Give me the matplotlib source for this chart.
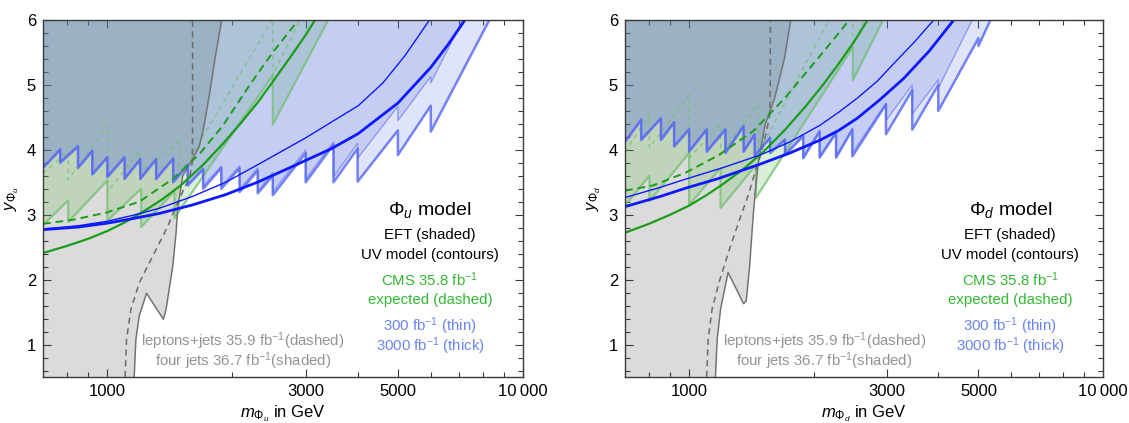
import matplotlib
matplotlib.use("Agg")
import matplotlib.pyplot as plt
from matplotlib.ticker import FixedLocator, NullFormatter, FixedFormatter

plt.rcParams['font.family'] = ['Liberation Sans', 'DejaVu Sans']
plt.rcParams['mathtext.fontset'] = 'custom'
plt.rcParams['mathtext.rm'] = 'Liberation Sans'
plt.rcParams['mathtext.it'] = 'Liberation Sans:italic'
plt.rcParams['mathtext.bf'] = 'Liberation Sans:bold'

# ---------------- axis ranges / ticks ----------------
x_min, x_max = 700, 10000
y_min, y_max = 0.5, 6.0
x_major = [1000, 3000, 5000, 10000]
x_major_labels = ["1000", "3000", "5000", "10\u2009000"]
x_minor = [800, 900, 2000, 4000, 6000, 7000, 8000, 9000]
y_major = [1, 2, 3, 4, 5, 6]

# ================= LEFT PANEL  (Phi_u) =================
# four jets (shaded) boundary
u_gray_m = [1160, 1171, 1193, 1242, 1364, 1384, 1436, 1463, 1476, 1518, 1600, 1663, 1700, 1762, 1820, 1884]
u_gray_y = [0.5, 1.08, 1.44, 1.79, 1.39, 1.54, 2.2, 2.72, 3.08, 3.6, 3.85, 4.05, 4.3, 4.87, 5.45, 6.0]
# leptons+jets (dashed)
u_lj_m = [1103, 1112, 1139, 1193, 1285, 1397, 1463, 1530, 1580, 1600, 1603, 1603]
u_lj_y = [0.5, 1.08, 1.54, 1.95, 2.36, 2.82, 3.13, 3.4, 3.6, 3.8, 4.2, 6.0]
# CMS observed EFT boundary (sawtooth)
u_gobs_edges = [700, 805, 1000, 1206, 1450, 2500, 3500]
u_gobs_lo = [2.84, 2.89, 2.91, 2.81, 2.95, 4.39]
u_gobs_hi = [3.22, 3.53, 3.40, 3.36, 5.15, 6.15]
# CMS expected EFT boundary (dashed sawtooth)
u_gexp_edges = [700, 805, 1000, 1193, 1491, 2500, 3000]
u_gexp_lo = [3.64, 3.54, 3.35, 3.64, 3.59, 5.15]
u_gexp_hi = [3.97, 4.38, 3.98, 4.13, 6.02, 6.18]
# UV contours, CMS
u_guv_m = [700, 800, 900, 1000, 1100, 1200, 1350, 1500, 1700, 1900, 2100, 2300, 2500, 2750, 3000, 3160]
u_guv_y = [2.41, 2.52, 2.63, 2.75, 2.88, 3.02, 3.23, 3.45, 3.77, 4.10, 4.42, 4.73, 5.05, 5.42, 5.77, 6.0]
u_guvexp_m = [700, 823, 991, 1193, 1436, 1663, 1900, 2200, 2500, 2880]
u_guvexp_y = [2.86, 2.92, 3.03, 3.20, 3.55, 3.93, 4.38, 5.00, 5.50, 6.0]
# HL projections EFT boundaries
u_b3000_edges = [700, 770, 850, 920, 1000, 1100, 1200, 1310, 1440, 1560, 1700, 1880, 2080, 2300, 2500,
                 3000, 3500, 4000, 5000, 6000, 8300]
u_b3000_lo = [3.72, 3.80, 3.72, 3.62, 3.58, 3.55, 3.55, 3.55, 3.50, 3.45, 3.40, 3.40, 3.35, 3.33, 3.30,
              3.50, 3.50, 3.51, 3.92, 4.28]
u_b3000_hi = [4.00, 4.05, 3.98, 3.88, 3.88, 3.85, 3.85, 3.86, 3.76, 3.70, 3.72, 3.72, 3.68, 3.60, 3.95,
              4.08, 4.02, 4.30, 4.68, 6.00]
u_b300_edges = [700, 770, 850, 920, 1000, 1100, 1200, 1310, 1440, 1560, 1700, 1880, 2080, 2300, 2500,
                3000, 3500, 4000, 5000, 6000, 7160]
u_b300_lo = [3.74, 3.82, 3.74, 3.64, 3.60, 3.57, 3.57, 3.57, 3.52, 3.47, 3.44, 3.44, 3.39, 3.36, 3.35,
             3.55, 3.58, 3.87, 4.45, 5.03]
u_b300_hi = [4.02, 4.07, 4.00, 3.90, 3.90, 3.87, 3.87, 3.88, 3.78, 3.72, 3.75, 3.75, 3.72, 3.65, 4.00,
             4.12, 4.10, 4.67, 5.13, 6.00]
# HL UV contours
u_buv300_m = [700, 850, 1000, 1150, 1334, 1600, 1926, 2315, 2992, 4015, 4600, 5200, 5957]
u_buv300_y = [2.78, 2.83, 2.90, 2.99, 3.10, 3.28, 3.50, 3.78, 4.18, 4.68, 5.03, 5.45, 6.0]
u_buv3000_m = [700, 850, 1000, 1150, 1334, 1600, 1926, 2315, 2781, 3465, 4015, 5000, 6000, 6600, 7250]
u_buv3000_y = [2.77, 2.81, 2.87, 2.94, 3.02, 3.15, 3.31, 3.51, 3.74, 4.02, 4.25, 4.72, 5.27, 5.62, 6.0]

# ================= RIGHT PANEL  (Phi_d) =================
d_gray_m = [1158, 1169, 1191, 1242, 1354, 1374, 1400, 1425, 1442, 1471, 1525, 1610, 1700, 1760]
d_gray_y = [0.5, 1.08, 1.54, 2.11, 1.63, 1.67, 2.2, 2.9, 3.3, 3.82, 4.38, 4.8, 5.41, 6.0]
d_lj_m = [1102, 1112, 1136, 1180, 1249, 1323, 1391, 1450, 1489, 1540, 1567, 1571, 1571]
d_lj_y = [0.5, 1.08, 1.54, 1.95, 2.45, 2.92, 3.31, 3.7, 3.92, 4.3, 4.54, 5.0, 6.0]
d_gobs_edges = [700, 802, 1000, 1191, 1450, 2486, 3100]
d_gobs_lo = [3.14, 3.21, 3.15, 3.10, 3.26, 5.07]
d_gobs_hi = [3.60, 3.95, 3.72, 3.77, 5.58, 6.29]
d_gexp_edges = [700, 802, 1000, 1191, 1471, 2486, 2800]
d_gexp_lo = [3.97, 4.03, 3.87, 3.92, 3.95, 5.62]
d_gexp_hi = [4.55, 4.85, 4.40, 4.70, 6.70, 6.33]
d_guv_m = [705, 800, 900, 1000, 1100, 1200, 1350, 1500, 1700, 1900, 2100, 2300, 2500, 2700]
d_guv_y = [2.73, 2.86, 3.00, 3.14, 3.30, 3.46, 3.70, 3.95, 4.30, 4.65, 4.99, 5.33, 5.66, 6.0]
d_guvexp_m = [700, 817, 982, 1180, 1436, 1705, 2073, 2300, 2450]
d_guvexp_y = [3.37, 3.45, 3.65, 3.92, 4.30, 4.80, 5.45, 5.80, 6.02]
d_b3000_edges = [700, 766, 855, 920, 1000, 1103, 1224, 1354, 1440, 1569, 1705, 1887, 2067, 2265, 2480,
                 2990, 3460, 4000, 5000, 5500]
d_b3000_lo = [4.12, 4.15, 4.15, 4.05, 3.97, 3.97, 3.95, 3.97, 3.90, 3.95, 3.92, 3.87, 3.88, 3.88, 3.90,
              4.24, 4.31, 4.60, 5.60]
d_b3000_hi = [4.46, 4.48, 4.42, 4.31, 4.31, 4.31, 4.36, 4.23, 4.18, 4.15, 4.21, 4.28, 4.26, 4.31, 4.70,
              4.92, 5.00, 5.72, 6.17]
d_b300_edges = [700, 766, 855, 920, 1000, 1103, 1224, 1354, 1440, 1569, 1705, 1887, 2067, 2265, 2480,
                2990, 3460, 4000, 5000]
d_b300_lo = [4.14, 4.17, 4.17, 4.07, 3.99, 3.99, 3.97, 3.99, 3.92, 3.97, 3.94, 3.89, 3.90, 3.90, 3.95,
             4.45, 4.55, 4.95]
d_b300_hi = [4.48, 4.50, 4.44, 4.33, 4.33, 4.33, 4.38, 4.25, 4.20, 4.17, 4.23, 4.30, 4.28, 4.33, 4.72,
             5.00, 5.08, 6.19]
d_buv300_m = [705, 850, 982, 1200, 1485, 1750, 2073, 2300, 2553, 2850, 3200, 3500, 3900]
d_buv300_y = [3.27, 3.42, 3.55, 3.72, 3.92, 4.12, 4.38, 4.58, 4.80, 5.06, 5.40, 5.66, 6.0]
d_buv3000_m = [705, 850, 982, 1180, 1485, 1750, 2073, 2300, 2553, 2900, 3300, 3800, 4360]
d_buv3000_y = [3.13, 3.28, 3.41, 3.56, 3.78, 3.95, 4.15, 4.30, 4.49, 4.78, 5.10, 5.52, 6.0]

# ---------------- styles ----------------
GRAY_FILL = (0.5, 0.5, 0.5)
GREEN_FILL = (0.40, 0.75, 0.35)
BLUE_FILL = (0.34, 0.44, 0.855)
BLUE_EDGE = (0.33, 0.40, 0.95)
GREEN_EDGE = (0.45, 0.75, 0.45)
UV_BLUE = (0.05, 0.1, 1.0)
UV_GREEN = (0.1, 0.62, 0.1)
TXT_GREEN = (0.2, 0.72, 0.2)
TXT_BLUE = (0.42, 0.52, 0.93)
TXT_GRAY = (0.58, 0.58, 0.58)
FRAME = "#3a3a3a"


def saw(edges, lo, hi):
    xs, ys = [], []
    for i in range(len(lo)):
        xs += [edges[i], edges[i + 1]]
        ys += [lo[i], hi[i]]
    return xs, ys


def region_above(ax, xs, ys, color, alpha, z):
    px = list(xs) + [xs[-1], xs[0]]
    py = list(ys) + [9, 9]
    ax.fill(px, py, color=color, alpha=alpha, lw=0, zorder=z)


def panel(ax, d, sub):
    # gray four-jets region
    gx = [x_min, d['gray_m'][0]] + d['gray_m'][1:] + [d['gray_m'][-1], x_min]
    gy = [0.4, 0.4] + d['gray_y'][1:] + [9, 9]
    ax.fill(gx, gy, color=GRAY_FILL, alpha=0.28, lw=0, zorder=1)
    ax.plot(d['gray_m'], d['gray_y'], color=(0.45, 0.45, 0.45), lw=1.1, zorder=6)
    ax.plot(d['lj_m'], d['lj_y'], color=(0.42, 0.42, 0.42), lw=1.1, ls=(0, (4, 3)), zorder=6)

    # green observed EFT region
    xs, ys = saw(d['gobs_edges'], d['gobs_lo'], d['gobs_hi'])
    region_above(ax, xs, ys, GREEN_FILL, 0.24, 2)
    ax.plot(xs, ys, color=GREEN_EDGE, alpha=0.75, lw=1.6, zorder=5)
    xs, ys = saw(d['gexp_edges'], d['gexp_lo'], d['gexp_hi'])
    ax.plot(xs, ys, color=GREEN_EDGE, alpha=0.75, lw=1.0, ls=(0, (3, 3)), zorder=5)

    # blue projections
    xs3, ys3 = saw(d['b3000_edges'], d['b3000_lo'], d['b3000_hi'])
    xs1, ys1 = saw(d['b300_edges'], d['b300_lo'], d['b300_hi'])
    region_above(ax, xs3, ys3, BLUE_FILL, 0.19, 3)
    region_above(ax, xs1, ys1, BLUE_FILL, 0.19, 3)
    ax.plot(xs1, ys1, color=BLUE_EDGE, alpha=0.55, lw=1.0, zorder=7)
    ax.plot(xs3, ys3, color=BLUE_EDGE, alpha=0.8, lw=1.8, zorder=7)

    # UV contours
    ax.plot(d['guv_m'], d['guv_y'], color=UV_GREEN, lw=1.6, zorder=8)
    ax.plot(d['guvexp_m'], d['guvexp_y'], color=UV_GREEN, lw=1.4, ls=(0, (4, 2.5)), zorder=8)
    ax.plot(d['buv300_m'], d['buv300_y'], color=UV_BLUE, lw=1.0, zorder=9)
    ax.plot(d['buv3000_m'], d['buv3000_y'], color=UV_BLUE, lw=2.0, zorder=9)

    ax.set_xscale('log')
    ax.set_xlim(x_min, x_max)
    ax.set_ylim(y_min, y_max)
    ax.xaxis.set_major_locator(FixedLocator(x_major))
    ax.xaxis.set_major_formatter(FixedFormatter(x_major_labels))
    ax.xaxis.set_minor_locator(FixedLocator(x_minor))
    ax.xaxis.set_minor_formatter(NullFormatter())
    ax.yaxis.set_major_locator(FixedLocator(y_major))
    ax.yaxis.set_minor_locator(FixedLocator([v / 10 for v in range(6, 60, 2) if v % 10 != 0]))
    ax.tick_params(which='both', direction='in', top=True, right=True, color=FRAME, labelsize=12,
                   width=0.8, pad=5)
    ax.tick_params(which='major', length=6)
    ax.tick_params(which='minor', length=3.5)
    for s in ax.spines.values():
        s.set_color(FRAME)
        s.set_linewidth(1.0)
        s.set_zorder(20)

    ax.set_xlabel(r"$m_{\Phi_%s}$ in GeV" % sub, fontsize=12, labelpad=3)
    ax.set_ylabel(r"$y_{\Phi_%s}$" % sub, fontsize=12, labelpad=4)

    tx = 0.806
    fs = 10.8
    ax.text(tx, 0.468, r"$\Phi_%s$ model" % sub, transform=ax.transAxes, ha='center', va='center',
            fontsize=14, color='black', zorder=30)
    ax.text(tx, 0.398, "EFT (shaded)", transform=ax.transAxes, ha='center', va='center',
            fontsize=fs, color='black', zorder=30)
    ax.text(tx, 0.342, "UV model (contours)", transform=ax.transAxes, ha='center', va='center',
            fontsize=fs, color='black', zorder=30)
    ax.text(tx, 0.273, r"CMS 35.8 fb$^{-1}$", transform=ax.transAxes, ha='center', va='center',
            fontsize=fs, color=TXT_GREEN, zorder=30)
    ax.text(tx, 0.215, "expected (dashed)", transform=ax.transAxes, ha='center', va='center',
            fontsize=fs, color=TXT_GREEN, zorder=30)
    ax.text(tx, 0.142, r"300 fb$^{-1}$ (thin)", transform=ax.transAxes, ha='center', va='center',
            fontsize=fs, color=TXT_BLUE, zorder=30)
    ax.text(tx, 0.086, r"3000 fb$^{-1}$ (thick)", transform=ax.transAxes, ha='center', va='center',
            fontsize=fs, color=TXT_BLUE, zorder=30)
    ax.text(0.417, 0.100, r"leptons+jets 35.9 fb$^{-1}$(dashed)", transform=ax.transAxes, ha='center',
            va='center', fontsize=fs, color=TXT_GRAY, zorder=30)
    ax.text(0.417, 0.044, r"four jets 36.7 fb$^{-1}$(shaded)", transform=ax.transAxes, ha='center',
            va='center', fontsize=fs, color=TXT_GRAY, zorder=30)


data_u = dict(gray_m=u_gray_m, gray_y=u_gray_y, lj_m=u_lj_m, lj_y=u_lj_y,
              gobs_edges=u_gobs_edges, gobs_lo=u_gobs_lo, gobs_hi=u_gobs_hi,
              gexp_edges=u_gexp_edges, gexp_lo=u_gexp_lo, gexp_hi=u_gexp_hi,
              guv_m=u_guv_m, guv_y=u_guv_y, guvexp_m=u_guvexp_m, guvexp_y=u_guvexp_y,
              b3000_edges=u_b3000_edges, b3000_lo=u_b3000_lo, b3000_hi=u_b3000_hi,
              b300_edges=u_b300_edges, b300_lo=u_b300_lo, b300_hi=u_b300_hi,
              buv300_m=u_buv300_m, buv300_y=u_buv300_y, buv3000_m=u_buv3000_m, buv3000_y=u_buv3000_y)
data_d = dict(gray_m=d_gray_m, gray_y=d_gray_y, lj_m=d_lj_m, lj_y=d_lj_y,
              gobs_edges=d_gobs_edges, gobs_lo=d_gobs_lo, gobs_hi=d_gobs_hi,
              gexp_edges=d_gexp_edges, gexp_lo=d_gexp_lo, gexp_hi=d_gexp_hi,
              guv_m=d_guv_m, guv_y=d_guv_y, guvexp_m=d_guvexp_m, guvexp_y=d_guvexp_y,
              b3000_edges=d_b3000_edges, b3000_lo=d_b3000_lo, b3000_hi=d_b3000_hi,
              b300_edges=d_b300_edges, b300_lo=d_b300_lo, b300_hi=d_b300_hi,
              buv300_m=d_buv300_m, buv300_y=d_buv300_y, buv3000_m=d_buv3000_m, buv3000_y=d_buv3000_y)

fig = plt.figure(figsize=(11.29, 4.23), dpi=100)
ax1 = fig.add_axes([43 / 1129, 46 / 423, 480 / 1129, 357 / 423])
ax2 = fig.add_axes([625 / 1129, 46 / 423, 478 / 1129, 357 / 423])
panel(ax1, data_u, 'u')
panel(ax2, data_d, 'd')
fig.savefig("out.png", dpi=100)
